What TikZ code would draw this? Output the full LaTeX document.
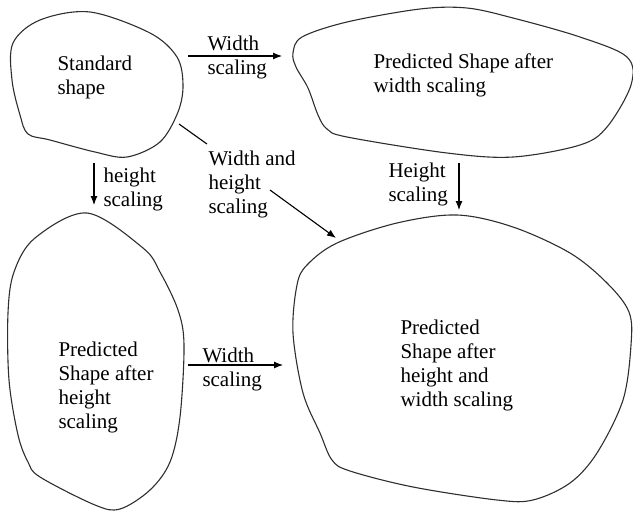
\documentclass[tikz,border=0pt]{standalone}
\usepackage{fontspec}
\setmainfont{Liberation Serif}
\usetikzlibrary{arrows.meta, positioning}
\definecolor{cline}{HTML}{2E2E2E}
\tikzset{
  every picture/.style={line width=1pt},
  blob/.style={draw=cline, line width=1.1pt},
  arrow/.style={-{Latex[length=9pt, width=7pt]}, draw=black, line width=1.1pt},
  txt/.style={font=\fontsize{21}{24}\selectfont, align=left, inner sep=0pt, anchor=base west},
}

\begin{document}
\begin{tikzpicture}[x=1pt, y=-1pt]
  \useasboundingbox (0,0) rectangle (633,512);
  % the four shapes, drawn freehand
  \draw[blob] plot[smooth cycle, tension=0.55] coordinates {(13,43) (40,20) (90,12) (150,33) (177,57) (183,85) (178,112) (160,142) (127,157) (95,152) (50,140) (28,134) (20,115) (12,80)};
  \draw[blob] plot[smooth cycle, tension=0.55] coordinates {(293,53) (302,37) (347,22) (420,9) (467,8) (513,18) (580,37) (627,57) (631,85) (607,127) (580,145) (513,157) (447,153) (347,137) (327,129) (318,115) (308,88) (296,67)};
  \draw[blob] plot[smooth cycle, tension=0.55] coordinates {(87,213) (143,248) (160,272) (178,310) (184,345) (180,417) (170,462) (150,490) (120,509) (95,505) (40,477) (28,462) (18,435) (9,380) (8,313) (14,272) (35,238)};
  \draw[blob] plot[smooth cycle, tension=0.55] coordinates {(457,215) (397,223) (337,243) (307,265) (297,285) (293,333) (303,393) (320,433) (332,460) (350,471) (413,487) (497,500) (533,500) (570,483) (597,453) (623,400) (631,345) (629,312) (607,283) (570,253) (513,227)};
  % texts inside the shapes (base = last line)
  \node[txt] (std)  at (57,94)  {Standard\\shape};
  \node[txt] (wid)  at (373,92) {Predicted Shape after\\width scaling};
  \node[txt] (hgt)  at (58,428) {Predicted\\Shape after\\height\\scaling};
  \node[txt] (both) at (400,406) {Predicted\\Shape after\\height and\\width scaling};
  % arrow ends
  \coordinate (w1s) at (188,56);  \coordinate (w1e) at (282,56);
  \coordinate (h1s) at (94,163);  \coordinate (h1e) at (94,205);
  \coordinate (d1s) at (179,124); \coordinate (d1e) at (207,144);
  \coordinate (d2s) at (270,190); \coordinate (d2e) at (336,238);
  \coordinate (h2s) at (459,163); \coordinate (h2e) at (459,210);
  \coordinate (w2s) at (188,365); \coordinate (w2e) at (283,365);
  \draw[arrow] (w1s) -- (w1e);
  \draw[arrow] (h1s) -- (h1e);
  \draw[arrow, -] (d1s) -- (d1e);
  \draw[arrow] (d2s) -- (d2e);
  \draw[arrow] (h2s) -- (h2e);
  \draw[arrow] (w2s) -- (w2e);
  % arrow labels
  \node[txt] (lw1) at (207,74)  {Width\\scaling};
  \node[txt] (lh1) at (103,206) {height\\scaling};
  \node[txt] (lwh) at (208,213) {Width and\\height\\scaling};
  \node[txt] (lh2) at (388,201) {Height\\scaling};
  \node[txt] (lw2) at (202,386) {Width\\scaling};
\end{tikzpicture}
\end{document}
